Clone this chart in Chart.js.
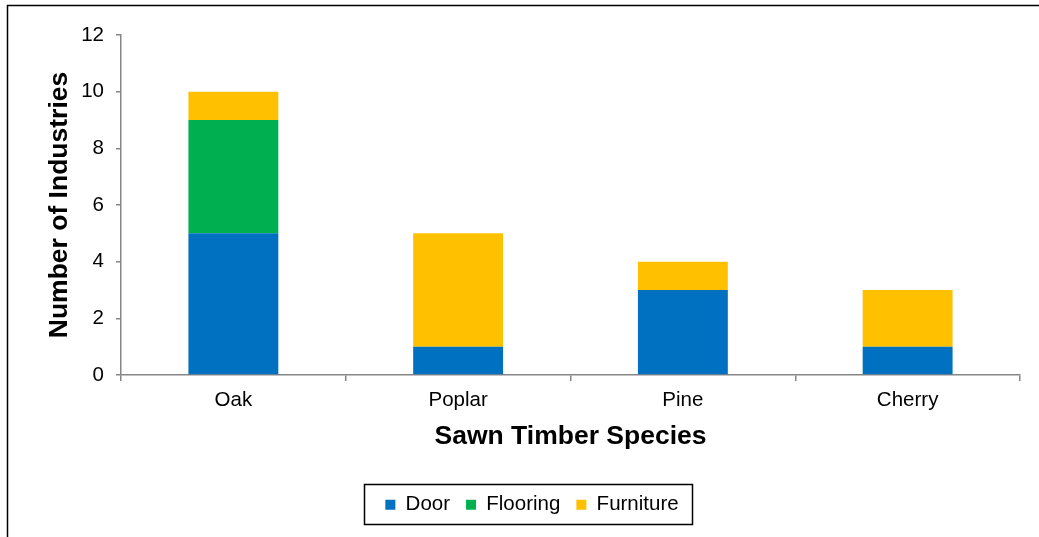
<!DOCTYPE html>
<html>
<head>
<meta charset="utf-8">
<script src="https://cdn.jsdelivr.net/npm/chart.js@4"></script>
<style>
  html, body { margin: 0; padding: 0; background: #fff; }
  canvas { display: block; }
</style>
</head>
<body>
<canvas id="chart" width="1039" height="537"></canvas>
<script>
// ---- Data ----
const categories = ['Oak', 'Poplar', 'Pine', 'Cherry'];
const doorValues = [5, 1, 3, 1];
const flooringValues = [4, 0, 0, 0];
const furnitureValues = [1, 4, 1, 2];
const yMax = 12;
const yStep = 2;

const FONT = "'Liberation Sans', Arial, sans-serif";
const axisGray = '#868686';

// outer frame + box round the legend
const framePlugin = {
  id: 'frame',
  beforeDraw(chart) {
    const ctx = chart.ctx;
    ctx.save();
    ctx.fillStyle = '#fff';
    ctx.fillRect(0, 0, chart.width, chart.height);
    ctx.restore();
  },
  afterDraw(chart) {
    const ctx = chart.ctx;
    ctx.save();
    ctx.strokeStyle = '#000';
    ctx.lineWidth = 1.5;
    ctx.strokeRect(7.5, 5.5, chart.width + 20, chart.height + 20);

    const boxes = chart.legend.legendHitBoxes;
    if (boxes && boxes.length) {
      const first = boxes[0];
      const last = boxes[boxes.length - 1];
      const left = first.left - 21;
      const right = last.left + last.width + 14;
      const mid = first.top + first.height / 2;
      // text sits a little low in the box, like the original
      ctx.strokeRect(Math.round(left) + 0.5, Math.round(mid - 21) + 0.5, Math.round(right - left), 40);
    }
    ctx.restore();
  }
};

new Chart(document.getElementById('chart'), {
  type: 'bar',
  data: {
    labels: categories,
    datasets: [
      { label: 'Door', data: doorValues, backgroundColor: '#0070C0' },
      { label: 'Flooring', data: flooringValues, backgroundColor: '#00B050' },
      { label: 'Furniture', data: furnitureValues, backgroundColor: '#FFC000' },
    ],
  },
  options: {
    responsive: false,
    animation: false,
    layout: { padding: { left: 44, right: 19, top: 35, bottom: 12 } },
    datasets: { bar: { categoryPercentage: 1, barPercentage: 0.4, borderWidth: 0 } },
    plugins: {
      tooltip: { enabled: false },
      legend: {
        position: 'bottom',
        labels: {
          color: '#000',
          font: { family: FONT, size: 20.5 },
          boxWidth: 10,
          boxHeight: 10,
          padding: 16,
        },
      },
    },
    scales: {
      x: {
        stacked: true,
        afterFit(scale) { scale.height = 103.5; },
        border: { color: axisGray, width: 1.5 },
        grid: { drawOnChartArea: false, color: axisGray, lineWidth: 1.5, tickLength: 6 },
        ticks: { color: '#000', font: { family: FONT, size: 20.5 }, padding: 7 },
        title: {
          display: true,
          text: 'Sawn Timber Species',
          color: '#000',
          font: { family: FONT, size: 26.5, weight: 'bold' },
          padding: { top: 0, bottom: 26 },
        },
      },
      y: {
        stacked: true,
        min: 0,
        max: yMax,
        afterFit(scale) { scale.width = 77; },
        border: { color: axisGray, width: 1.5 },
        grid: { drawOnChartArea: false, color: axisGray, lineWidth: 1.5, tickLength: 5 },
        ticks: { stepSize: yStep, color: '#000', font: { family: FONT, size: 20.5 }, padding: 12 },
        title: {
          display: true,
          text: 'Number of Industries',
          color: '#000',
          font: { family: FONT, size: 26.5, weight: 'bold' },
          padding: { top: 0, bottom: 0 },
        },
      },
    },
  },
  plugins: [framePlugin],
});
</script>
</body>
</html>
